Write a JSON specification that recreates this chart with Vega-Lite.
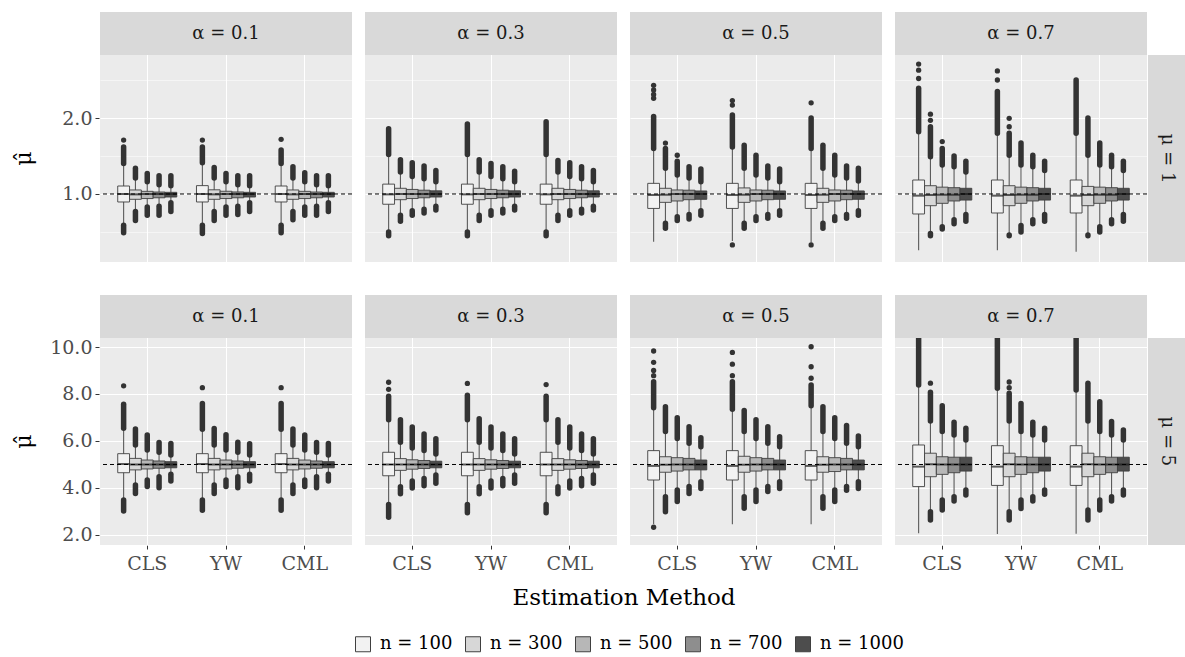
{
  "$schema": "https://vega.github.io/schema/vega-lite/v6.json",
  "padding": {"left": 12, "top": 12, "right": 0, "bottom": 0},
  "background": "white",
  "config": {
    "view": {"fill": "#EBEBEB", "stroke": null},
    "font": "DejaVu Serif",
    "axis": {"labelFont": "DejaVu Serif", "titleFont": "DejaVu Serif", "labelColor": "#4D4D4D", "tickColor": "#333333", "gridColor": "#FFFFFF", "domain": false},
    "header": {"labelFont": "DejaVu Serif", "titleFont": "DejaVu Serif"}
  },
  "datasets": {
    "d": [
      {"k":"b","mu":1,"alpha":"α = 0.1","m":"CLS","n":100,"lw":0.59,"q1":0.895,"md":1.0,"q3":1.105,"uw":1.40,"hi":1.62,"lo":0.49},
      {"k":"b","mu":1,"alpha":"α = 0.1","m":"CLS","n":300,"lw":0.77,"q1":0.93,"md":0.995,"q3":1.053,"uw":1.21,"hi":1.34,"lo":0.65},
      {"k":"b","mu":1,"alpha":"α = 0.1","m":"CLS","n":500,"lw":0.83,"q1":0.94,"md":1.0,"q3":1.035,"uw":1.16,"hi":1.27,"lo":0.72},
      {"k":"b","mu":1,"alpha":"α = 0.1","m":"CLS","n":700,"lw":0.84,"q1":0.95,"md":1.0,"q3":1.026,"uw":1.12,"hi":1.24,"lo":0.72},
      {"k":"b","mu":1,"alpha":"α = 0.1","m":"CLS","n":1000,"lw":0.886,"q1":0.96,"md":1.0,"q3":1.022,"uw":1.11,"hi":1.24,"lo":0.77},
      {"k":"b","mu":1,"alpha":"α = 0.1","m":"YW","n":100,"lw":0.59,"q1":0.895,"md":1.0,"q3":1.11,"uw":1.41,"hi":1.62,"lo":0.48},
      {"k":"b","mu":1,"alpha":"α = 0.1","m":"YW","n":300,"lw":0.77,"q1":0.93,"md":0.995,"q3":1.055,"uw":1.21,"hi":1.35,"lo":0.65},
      {"k":"b","mu":1,"alpha":"α = 0.1","m":"YW","n":500,"lw":0.83,"q1":0.94,"md":1.0,"q3":1.036,"uw":1.16,"hi":1.27,"lo":0.72},
      {"k":"b","mu":1,"alpha":"α = 0.1","m":"YW","n":700,"lw":0.84,"q1":0.95,"md":1.0,"q3":1.027,"uw":1.12,"hi":1.24,"lo":0.73},
      {"k":"b","mu":1,"alpha":"α = 0.1","m":"YW","n":1000,"lw":0.886,"q1":0.96,"md":1.0,"q3":1.022,"uw":1.11,"hi":1.24,"lo":0.77},
      {"k":"b","mu":1,"alpha":"α = 0.1","m":"CML","n":100,"lw":0.59,"q1":0.895,"md":1.0,"q3":1.105,"uw":1.40,"hi":1.58,"lo":0.49},
      {"k":"b","mu":1,"alpha":"α = 0.1","m":"CML","n":300,"lw":0.77,"q1":0.93,"md":0.995,"q3":1.053,"uw":1.21,"hi":1.36,"lo":0.66},
      {"k":"b","mu":1,"alpha":"α = 0.1","m":"CML","n":500,"lw":0.83,"q1":0.94,"md":1.0,"q3":1.035,"uw":1.16,"hi":1.28,"lo":0.72},
      {"k":"b","mu":1,"alpha":"α = 0.1","m":"CML","n":700,"lw":0.84,"q1":0.95,"md":1.0,"q3":1.026,"uw":1.12,"hi":1.24,"lo":0.72},
      {"k":"b","mu":1,"alpha":"α = 0.1","m":"CML","n":1000,"lw":0.886,"q1":0.96,"md":1.0,"q3":1.022,"uw":1.11,"hi":1.24,"lo":0.77},
      {"k":"p","mu":1,"alpha":"α = 0.1","m":"CLS","n":100,"v":1.71},
      {"k":"p","mu":1,"alpha":"α = 0.1","m":"YW","n":100,"v":1.71},
      {"k":"p","mu":1,"alpha":"α = 0.1","m":"CML","n":100,"v":1.72},

      {"k":"b","mu":1,"alpha":"α = 0.3","m":"CLS","n":100,"lw":0.50,"q1":0.865,"md":0.995,"q3":1.13,"uw":1.52,"hi":1.86,"lo":0.45},
      {"k":"b","mu":1,"alpha":"α = 0.3","m":"CLS","n":300,"lw":0.72,"q1":0.925,"md":1.0,"q3":1.075,"uw":1.29,"hi":1.45,"lo":0.64},
      {"k":"b","mu":1,"alpha":"α = 0.3","m":"CLS","n":500,"lw":0.78,"q1":0.94,"md":1.0,"q3":1.06,"uw":1.23,"hi":1.41,"lo":0.72},
      {"k":"b","mu":1,"alpha":"α = 0.3","m":"CLS","n":700,"lw":0.80,"q1":0.95,"md":1.0,"q3":1.05,"uw":1.20,"hi":1.37,"lo":0.75},
      {"k":"b","mu":1,"alpha":"α = 0.3","m":"CLS","n":1000,"lw":0.84,"q1":0.96,"md":1.0,"q3":1.042,"uw":1.16,"hi":1.31,"lo":0.79},
      {"k":"b","mu":1,"alpha":"α = 0.3","m":"YW","n":100,"lw":0.50,"q1":0.865,"md":0.995,"q3":1.13,"uw":1.52,"hi":1.92,"lo":0.45},
      {"k":"b","mu":1,"alpha":"α = 0.3","m":"YW","n":300,"lw":0.72,"q1":0.925,"md":1.0,"q3":1.075,"uw":1.29,"hi":1.45,"lo":0.65},
      {"k":"b","mu":1,"alpha":"α = 0.3","m":"YW","n":500,"lw":0.78,"q1":0.94,"md":1.0,"q3":1.06,"uw":1.23,"hi":1.40,"lo":0.72},
      {"k":"b","mu":1,"alpha":"α = 0.3","m":"YW","n":700,"lw":0.80,"q1":0.95,"md":1.0,"q3":1.05,"uw":1.20,"hi":1.36,"lo":0.75},
      {"k":"b","mu":1,"alpha":"α = 0.3","m":"YW","n":1000,"lw":0.84,"q1":0.96,"md":1.0,"q3":1.042,"uw":1.16,"hi":1.30,"lo":0.79},
      {"k":"b","mu":1,"alpha":"α = 0.3","m":"CML","n":100,"lw":0.50,"q1":0.865,"md":0.995,"q3":1.13,"uw":1.52,"hi":1.95,"lo":0.45},
      {"k":"b","mu":1,"alpha":"α = 0.3","m":"CML","n":300,"lw":0.72,"q1":0.925,"md":1.0,"q3":1.075,"uw":1.29,"hi":1.44,"lo":0.65},
      {"k":"b","mu":1,"alpha":"α = 0.3","m":"CML","n":500,"lw":0.78,"q1":0.94,"md":1.0,"q3":1.06,"uw":1.23,"hi":1.41,"lo":0.72},
      {"k":"b","mu":1,"alpha":"α = 0.3","m":"CML","n":700,"lw":0.80,"q1":0.95,"md":1.0,"q3":1.05,"uw":1.20,"hi":1.36,"lo":0.75},
      {"k":"b","mu":1,"alpha":"α = 0.3","m":"CML","n":1000,"lw":0.84,"q1":0.96,"md":1.0,"q3":1.042,"uw":1.16,"hi":1.31,"lo":0.79},

      {"k":"b","mu":1,"alpha":"α = 0.5","m":"CLS","n":100,"lw":0.37,"q1":0.81,"md":0.987,"q3":1.14,"uw":1.60,"hi":2.02,"lo":null},
      {"k":"b","mu":1,"alpha":"α = 0.5","m":"CLS","n":300,"lw":0.615,"q1":0.89,"md":0.99,"q3":1.075,"uw":1.34,"hi":1.60,"lo":0.55},
      {"k":"b","mu":1,"alpha":"α = 0.5","m":"CLS","n":500,"lw":0.70,"q1":0.908,"md":1.0,"q3":1.053,"uw":1.25,"hi":1.43,"lo":0.65},
      {"k":"b","mu":1,"alpha":"α = 0.5","m":"CLS","n":700,"lw":0.73,"q1":0.925,"md":1.0,"q3":1.05,"uw":1.21,"hi":1.36,"lo":0.67},
      {"k":"b","mu":1,"alpha":"α = 0.5","m":"CLS","n":1000,"lw":0.78,"q1":0.93,"md":1.0,"q3":1.04,"uw":1.16,"hi":1.33,"lo":0.72},
      {"k":"b","mu":1,"alpha":"α = 0.5","m":"YW","n":100,"lw":0.38,"q1":0.81,"md":0.987,"q3":1.14,"uw":1.62,"hi":2.04,"lo":null},
      {"k":"b","mu":1,"alpha":"α = 0.5","m":"YW","n":300,"lw":0.615,"q1":0.89,"md":0.99,"q3":1.08,"uw":1.34,"hi":1.64,"lo":0.55},
      {"k":"b","mu":1,"alpha":"α = 0.5","m":"YW","n":500,"lw":0.70,"q1":0.908,"md":1.0,"q3":1.053,"uw":1.25,"hi":1.51,"lo":0.65},
      {"k":"b","mu":1,"alpha":"α = 0.5","m":"YW","n":700,"lw":0.73,"q1":0.925,"md":1.0,"q3":1.05,"uw":1.21,"hi":1.37,"lo":0.68},
      {"k":"b","mu":1,"alpha":"α = 0.5","m":"YW","n":1000,"lw":0.78,"q1":0.93,"md":1.0,"q3":1.04,"uw":1.16,"hi":1.33,"lo":0.72},
      {"k":"b","mu":1,"alpha":"α = 0.5","m":"CML","n":100,"lw":0.36,"q1":0.81,"md":0.987,"q3":1.14,"uw":1.60,"hi":2.0,"lo":null},
      {"k":"b","mu":1,"alpha":"α = 0.5","m":"CML","n":300,"lw":0.615,"q1":0.89,"md":0.99,"q3":1.075,"uw":1.34,"hi":1.64,"lo":0.55},
      {"k":"b","mu":1,"alpha":"α = 0.5","m":"CML","n":500,"lw":0.70,"q1":0.908,"md":1.0,"q3":1.053,"uw":1.25,"hi":1.51,"lo":0.65},
      {"k":"b","mu":1,"alpha":"α = 0.5","m":"CML","n":700,"lw":0.73,"q1":0.925,"md":1.0,"q3":1.05,"uw":1.21,"hi":1.37,"lo":0.68},
      {"k":"b","mu":1,"alpha":"α = 0.5","m":"CML","n":1000,"lw":0.78,"q1":0.93,"md":1.0,"q3":1.04,"uw":1.17,"hi":1.34,"lo":0.72},
      {"k":"p","mu":1,"alpha":"α = 0.5","m":"CLS","n":100,"v":2.26},
      {"k":"p","mu":1,"alpha":"α = 0.5","m":"CLS","n":100,"v":2.31},
      {"k":"p","mu":1,"alpha":"α = 0.5","m":"CLS","n":100,"v":2.37},
      {"k":"p","mu":1,"alpha":"α = 0.5","m":"CLS","n":100,"v":2.43},
      {"k":"p","mu":1,"alpha":"α = 0.5","m":"CLS","n":300,"v":1.67},
      {"k":"p","mu":1,"alpha":"α = 0.5","m":"CLS","n":500,"v":1.51},
      {"k":"p","mu":1,"alpha":"α = 0.5","m":"YW","n":100,"v":2.17},
      {"k":"p","mu":1,"alpha":"α = 0.5","m":"YW","n":100,"v":2.23},
      {"k":"p","mu":1,"alpha":"α = 0.5","m":"YW","n":100,"v":0.33},
      {"k":"p","mu":1,"alpha":"α = 0.5","m":"CML","n":100,"v":2.2},
      {"k":"p","mu":1,"alpha":"α = 0.5","m":"CML","n":100,"v":0.33},

      {"k":"b","mu":1,"alpha":"α = 0.7","m":"CLS","n":100,"lw":0.26,"q1":0.737,"md":0.978,"q3":1.184,"uw":1.82,"hi":2.39,"lo":null},
      {"k":"b","mu":1,"alpha":"α = 0.7","m":"CLS","n":300,"lw":0.48,"q1":0.846,"md":0.987,"q3":1.109,"uw":1.49,"hi":1.885,"lo":0.45},
      {"k":"b","mu":1,"alpha":"α = 0.7","m":"CLS","n":500,"lw":0.57,"q1":0.877,"md":0.99,"q3":1.09,"uw":1.38,"hi":1.60,"lo":0.54},
      {"k":"b","mu":1,"alpha":"α = 0.7","m":"CLS","n":700,"lw":0.66,"q1":0.908,"md":0.99,"q3":1.083,"uw":1.36,"hi":1.50,"lo":0.61},
      {"k":"b","mu":1,"alpha":"α = 0.7","m":"CLS","n":1000,"lw":0.73,"q1":0.92,"md":1.0,"q3":1.075,"uw":1.29,"hi":1.43,"lo":0.64},
      {"k":"b","mu":1,"alpha":"α = 0.7","m":"YW","n":100,"lw":0.26,"q1":0.75,"md":0.978,"q3":1.184,"uw":1.80,"hi":2.35,"lo":null},
      {"k":"b","mu":1,"alpha":"α = 0.7","m":"YW","n":300,"lw":0.46,"q1":0.846,"md":0.987,"q3":1.109,"uw":1.51,"hi":1.80,"lo":0.45},
      {"k":"b","mu":1,"alpha":"α = 0.7","m":"YW","n":500,"lw":0.585,"q1":0.877,"md":0.99,"q3":1.09,"uw":1.38,"hi":1.67,"lo":0.50},
      {"k":"b","mu":1,"alpha":"α = 0.7","m":"YW","n":700,"lw":0.66,"q1":0.908,"md":0.99,"q3":1.083,"uw":1.36,"hi":1.51,"lo":0.61},
      {"k":"b","mu":1,"alpha":"α = 0.7","m":"YW","n":1000,"lw":0.73,"q1":0.92,"md":1.0,"q3":1.075,"uw":1.31,"hi":1.43,"lo":0.64},
      {"k":"b","mu":1,"alpha":"α = 0.7","m":"CML","n":100,"lw":0.24,"q1":0.75,"md":0.978,"q3":1.184,"uw":1.80,"hi":2.50,"lo":null},
      {"k":"b","mu":1,"alpha":"α = 0.7","m":"CML","n":300,"lw":0.46,"q1":0.846,"md":0.987,"q3":1.10,"uw":1.51,"hi":2.0,"lo":0.45},
      {"k":"b","mu":1,"alpha":"α = 0.7","m":"CML","n":500,"lw":0.57,"q1":0.877,"md":0.99,"q3":1.09,"uw":1.38,"hi":1.67,"lo":0.50},
      {"k":"b","mu":1,"alpha":"α = 0.7","m":"CML","n":700,"lw":0.66,"q1":0.908,"md":0.99,"q3":1.083,"uw":1.36,"hi":1.51,"lo":0.61},
      {"k":"b","mu":1,"alpha":"α = 0.7","m":"CML","n":1000,"lw":0.73,"q1":0.92,"md":1.0,"q3":1.075,"uw":1.31,"hi":1.43,"lo":0.64},
      {"k":"p","mu":1,"alpha":"α = 0.7","m":"CLS","n":100,"v":2.52},
      {"k":"p","mu":1,"alpha":"α = 0.7","m":"CLS","n":100,"v":2.63},
      {"k":"p","mu":1,"alpha":"α = 0.7","m":"CLS","n":100,"v":2.71},
      {"k":"p","mu":1,"alpha":"α = 0.7","m":"CLS","n":300,"v":1.97},
      {"k":"p","mu":1,"alpha":"α = 0.7","m":"CLS","n":300,"v":2.05},
      {"k":"p","mu":1,"alpha":"α = 0.7","m":"CLS","n":500,"v":1.69},
      {"k":"p","mu":1,"alpha":"α = 0.7","m":"YW","n":100,"v":2.50},
      {"k":"p","mu":1,"alpha":"α = 0.7","m":"YW","n":100,"v":2.62},
      {"k":"p","mu":1,"alpha":"α = 0.7","m":"YW","n":300,"v":1.885},
      {"k":"p","mu":1,"alpha":"α = 0.7","m":"YW","n":300,"v":1.996},

      {"k":"b","mu":5,"alpha":"α = 0.1","m":"CLS","n":100,"lw":3.49,"q1":4.65,"md":5.02,"q3":5.46,"uw":6.54,"hi":7.56,"lo":3.02},
      {"k":"b","mu":5,"alpha":"α = 0.1","m":"CLS","n":300,"lw":4.13,"q1":4.77,"md":5.0,"q3":5.26,"uw":5.83,"hi":6.51,"lo":3.77},
      {"k":"b","mu":5,"alpha":"α = 0.1","m":"CLS","n":500,"lw":4.34,"q1":4.81,"md":5.0,"q3":5.19,"uw":5.62,"hi":6.26,"lo":4.06},
      {"k":"b","mu":5,"alpha":"α = 0.1","m":"CLS","n":700,"lw":4.48,"q1":4.84,"md":5.0,"q3":5.15,"uw":5.52,"hi":5.94,"lo":4.01},
      {"k":"b","mu":5,"alpha":"α = 0.1","m":"CLS","n":1000,"lw":4.58,"q1":4.86,"md":5.0,"q3":5.12,"uw":5.40,"hi":5.89,"lo":4.30},
      {"k":"b","mu":5,"alpha":"α = 0.1","m":"YW","n":100,"lw":3.49,"q1":4.65,"md":5.02,"q3":5.46,"uw":6.50,"hi":7.60,"lo":3.05},
      {"k":"b","mu":5,"alpha":"α = 0.1","m":"YW","n":300,"lw":4.13,"q1":4.77,"md":5.0,"q3":5.26,"uw":5.83,"hi":6.53,"lo":3.77},
      {"k":"b","mu":5,"alpha":"α = 0.1","m":"YW","n":500,"lw":4.34,"q1":4.81,"md":5.0,"q3":5.19,"uw":5.62,"hi":6.27,"lo":4.06},
      {"k":"b","mu":5,"alpha":"α = 0.1","m":"YW","n":700,"lw":4.48,"q1":4.84,"md":5.0,"q3":5.15,"uw":5.52,"hi":5.95,"lo":4.01},
      {"k":"b","mu":5,"alpha":"α = 0.1","m":"YW","n":1000,"lw":4.58,"q1":4.86,"md":5.0,"q3":5.12,"uw":5.40,"hi":5.88,"lo":4.30},
      {"k":"b","mu":5,"alpha":"α = 0.1","m":"CML","n":100,"lw":3.49,"q1":4.65,"md":5.02,"q3":5.46,"uw":6.50,"hi":7.60,"lo":3.05},
      {"k":"b","mu":5,"alpha":"α = 0.1","m":"CML","n":300,"lw":4.13,"q1":4.77,"md":5.0,"q3":5.26,"uw":5.83,"hi":6.51,"lo":3.77},
      {"k":"b","mu":5,"alpha":"α = 0.1","m":"CML","n":500,"lw":4.34,"q1":4.81,"md":5.0,"q3":5.19,"uw":5.62,"hi":6.26,"lo":4.06},
      {"k":"b","mu":5,"alpha":"α = 0.1","m":"CML","n":700,"lw":4.48,"q1":4.84,"md":5.0,"q3":5.15,"uw":5.52,"hi":5.94,"lo":4.01},
      {"k":"b","mu":5,"alpha":"α = 0.1","m":"CML","n":1000,"lw":4.58,"q1":4.86,"md":5.0,"q3":5.12,"uw":5.40,"hi":5.89,"lo":4.30},
      {"k":"p","mu":5,"alpha":"α = 0.1","m":"CLS","n":100,"v":8.35},
      {"k":"p","mu":5,"alpha":"α = 0.1","m":"YW","n":100,"v":8.27},
      {"k":"p","mu":5,"alpha":"α = 0.1","m":"CML","n":100,"v":8.27},

      {"k":"b","mu":5,"alpha":"α = 0.3","m":"CLS","n":100,"lw":3.3,"q1":4.52,"md":5.0,"q3":5.52,"uw":6.9,"hi":7.9,"lo":2.75},
      {"k":"b","mu":5,"alpha":"α = 0.3","m":"CLS","n":300,"lw":4.05,"q1":4.75,"md":5.0,"q3":5.25,"uw":5.95,"hi":6.9,"lo":3.75},
      {"k":"b","mu":5,"alpha":"α = 0.3","m":"CLS","n":500,"lw":4.3,"q1":4.8,"md":5.0,"q3":5.2,"uw":5.7,"hi":6.6,"lo":4.0},
      {"k":"b","mu":5,"alpha":"α = 0.3","m":"CLS","n":700,"lw":4.4,"q1":4.83,"md":5.0,"q3":5.17,"uw":5.6,"hi":6.3,"lo":4.1},
      {"k":"b","mu":5,"alpha":"α = 0.3","m":"CLS","n":1000,"lw":4.55,"q1":4.86,"md":5.0,"q3":5.14,"uw":5.45,"hi":6.1,"lo":4.2},
      {"k":"b","mu":5,"alpha":"α = 0.3","m":"YW","n":100,"lw":3.3,"q1":4.52,"md":5.0,"q3":5.52,"uw":6.9,"hi":7.95,"lo":2.95},
      {"k":"b","mu":5,"alpha":"α = 0.3","m":"YW","n":300,"lw":4.05,"q1":4.75,"md":5.0,"q3":5.25,"uw":5.95,"hi":6.95,"lo":3.75},
      {"k":"b","mu":5,"alpha":"α = 0.3","m":"YW","n":500,"lw":4.3,"q1":4.8,"md":5.0,"q3":5.2,"uw":5.7,"hi":6.6,"lo":4.0},
      {"k":"b","mu":5,"alpha":"α = 0.3","m":"YW","n":700,"lw":4.4,"q1":4.83,"md":5.0,"q3":5.17,"uw":5.6,"hi":6.3,"lo":4.1},
      {"k":"b","mu":5,"alpha":"α = 0.3","m":"YW","n":1000,"lw":4.55,"q1":4.86,"md":5.0,"q3":5.14,"uw":5.45,"hi":6.1,"lo":4.2},
      {"k":"b","mu":5,"alpha":"α = 0.3","m":"CML","n":100,"lw":3.3,"q1":4.52,"md":5.0,"q3":5.52,"uw":6.9,"hi":7.9,"lo":2.95},
      {"k":"b","mu":5,"alpha":"α = 0.3","m":"CML","n":300,"lw":4.05,"q1":4.75,"md":5.0,"q3":5.25,"uw":5.95,"hi":6.9,"lo":3.75},
      {"k":"b","mu":5,"alpha":"α = 0.3","m":"CML","n":500,"lw":4.3,"q1":4.8,"md":5.0,"q3":5.2,"uw":5.7,"hi":6.6,"lo":4.0},
      {"k":"b","mu":5,"alpha":"α = 0.3","m":"CML","n":700,"lw":4.4,"q1":4.83,"md":5.0,"q3":5.17,"uw":5.6,"hi":6.3,"lo":4.1},
      {"k":"b","mu":5,"alpha":"α = 0.3","m":"CML","n":1000,"lw":4.55,"q1":4.86,"md":5.0,"q3":5.14,"uw":5.45,"hi":6.1,"lo":4.2},
      {"k":"p","mu":5,"alpha":"α = 0.3","m":"CLS","n":100,"v":8.2},
      {"k":"p","mu":5,"alpha":"α = 0.3","m":"CLS","n":100,"v":8.5},
      {"k":"p","mu":5,"alpha":"α = 0.3","m":"YW","n":100,"v":8.45},
      {"k":"p","mu":5,"alpha":"α = 0.3","m":"CML","n":100,"v":8.4},

      {"k":"b","mu":5,"alpha":"α = 0.5","m":"CLS","n":100,"lw":2.47,"q1":4.34,"md":4.94,"q3":5.59,"uw":7.42,"hi":8.52,"lo":null},
      {"k":"b","mu":5,"alpha":"α = 0.5","m":"CLS","n":300,"lw":3.63,"q1":4.67,"md":4.99,"q3":5.33,"uw":6.40,"hi":7.46,"lo":2.99},
      {"k":"b","mu":5,"alpha":"α = 0.5","m":"CLS","n":500,"lw":3.91,"q1":4.72,"md":5.0,"q3":5.29,"uw":6.11,"hi":6.99,"lo":3.42},
      {"k":"b","mu":5,"alpha":"α = 0.5","m":"CLS","n":700,"lw":4.06,"q1":4.77,"md":5.0,"q3":5.26,"uw":5.90,"hi":6.61,"lo":3.77},
      {"k":"b","mu":5,"alpha":"α = 0.5","m":"CLS","n":1000,"lw":4.27,"q1":4.77,"md":5.0,"q3":5.19,"uw":5.76,"hi":6.14,"lo":3.98},
      {"k":"b","mu":5,"alpha":"α = 0.5","m":"YW","n":100,"lw":2.46,"q1":4.34,"md":4.94,"q3":5.59,"uw":7.35,"hi":8.52,"lo":null},
      {"k":"b","mu":5,"alpha":"α = 0.5","m":"YW","n":300,"lw":3.63,"q1":4.67,"md":4.99,"q3":5.35,"uw":6.40,"hi":7.30,"lo":3.14},
      {"k":"b","mu":5,"alpha":"α = 0.5","m":"YW","n":500,"lw":3.91,"q1":4.72,"md":5.0,"q3":5.29,"uw":6.11,"hi":6.90,"lo":3.42},
      {"k":"b","mu":5,"alpha":"α = 0.5","m":"YW","n":700,"lw":4.06,"q1":4.77,"md":5.0,"q3":5.26,"uw":5.90,"hi":6.61,"lo":3.85},
      {"k":"b","mu":5,"alpha":"α = 0.5","m":"YW","n":1000,"lw":4.27,"q1":4.77,"md":5.0,"q3":5.19,"uw":5.76,"hi":6.18,"lo":3.98},
      {"k":"b","mu":5,"alpha":"α = 0.5","m":"CML","n":100,"lw":2.46,"q1":4.34,"md":4.94,"q3":5.59,"uw":7.5,"hi":8.38,"lo":null},
      {"k":"b","mu":5,"alpha":"α = 0.5","m":"CML","n":300,"lw":3.63,"q1":4.67,"md":4.99,"q3":5.33,"uw":6.40,"hi":7.46,"lo":3.14},
      {"k":"b","mu":5,"alpha":"α = 0.5","m":"CML","n":500,"lw":3.91,"q1":4.70,"md":5.0,"q3":5.29,"uw":6.11,"hi":6.99,"lo":3.42},
      {"k":"b","mu":5,"alpha":"α = 0.5","m":"CML","n":700,"lw":4.06,"q1":4.77,"md":5.0,"q3":5.26,"uw":5.90,"hi":6.66,"lo":3.9},
      {"k":"b","mu":5,"alpha":"α = 0.5","m":"CML","n":1000,"lw":4.27,"q1":4.77,"md":5.0,"q3":5.19,"uw":5.76,"hi":6.21,"lo":3.98},
      {"k":"p","mu":5,"alpha":"α = 0.5","m":"CLS","n":100,"v":8.78},
      {"k":"p","mu":5,"alpha":"α = 0.5","m":"CLS","n":100,"v":9.0},
      {"k":"p","mu":5,"alpha":"α = 0.5","m":"CLS","n":100,"v":9.35},
      {"k":"p","mu":5,"alpha":"α = 0.5","m":"CLS","n":100,"v":9.83},
      {"k":"p","mu":5,"alpha":"α = 0.5","m":"CLS","n":100,"v":2.33},
      {"k":"p","mu":5,"alpha":"α = 0.5","m":"YW","n":100,"v":8.78},
      {"k":"p","mu":5,"alpha":"α = 0.5","m":"YW","n":100,"v":9.27},
      {"k":"p","mu":5,"alpha":"α = 0.5","m":"YW","n":100,"v":9.77},
      {"k":"p","mu":5,"alpha":"α = 0.5","m":"CML","n":100,"v":8.67},
      {"k":"p","mu":5,"alpha":"α = 0.5","m":"CML","n":100,"v":9.16},
      {"k":"p","mu":5,"alpha":"α = 0.5","m":"CML","n":100,"v":10.01},

      {"k":"b","mu":5,"alpha":"α = 0.7","m":"CLS","n":100,"lw":2.07,"q1":4.06,"md":4.91,"q3":5.83,"uw":8.38,"hi":11.0,"lo":null},
      {"k":"b","mu":5,"alpha":"α = 0.7","m":"CLS","n":300,"lw":2.99,"q1":4.48,"md":5.01,"q3":5.48,"uw":6.85,"hi":8.07,"lo":2.64},
      {"k":"b","mu":5,"alpha":"α = 0.7","m":"CLS","n":500,"lw":3.49,"q1":4.58,"md":5.0,"q3":5.33,"uw":6.40,"hi":7.50,"lo":3.06},
      {"k":"b","mu":5,"alpha":"α = 0.7","m":"CLS","n":700,"lw":3.63,"q1":4.65,"md":5.0,"q3":5.31,"uw":6.26,"hi":6.80,"lo":3.45},
      {"k":"b","mu":5,"alpha":"α = 0.7","m":"CLS","n":1000,"lw":3.91,"q1":4.72,"md":5.0,"q3":5.31,"uw":6.04,"hi":6.54,"lo":3.70},
      {"k":"b","mu":5,"alpha":"α = 0.7","m":"YW","n":100,"lw":2.04,"q1":4.11,"md":4.91,"q3":5.80,"uw":8.24,"hi":11.0,"lo":null},
      {"k":"b","mu":5,"alpha":"α = 0.7","m":"YW","n":300,"lw":2.99,"q1":4.48,"md":5.01,"q3":5.48,"uw":6.85,"hi":8.03,"lo":2.64},
      {"k":"b","mu":5,"alpha":"α = 0.7","m":"YW","n":500,"lw":3.49,"q1":4.58,"md":5.0,"q3":5.33,"uw":6.40,"hi":7.60,"lo":3.13},
      {"k":"b","mu":5,"alpha":"α = 0.7","m":"YW","n":700,"lw":3.63,"q1":4.65,"md":5.0,"q3":5.31,"uw":6.26,"hi":6.80,"lo":3.45},
      {"k":"b","mu":5,"alpha":"α = 0.7","m":"YW","n":1000,"lw":3.91,"q1":4.72,"md":5.0,"q3":5.31,"uw":6.04,"hi":6.54,"lo":3.73},
      {"k":"b","mu":5,"alpha":"α = 0.7","m":"CML","n":100,"lw":2.05,"q1":4.11,"md":4.91,"q3":5.80,"uw":8.17,"hi":11.0,"lo":null},
      {"k":"b","mu":5,"alpha":"α = 0.7","m":"CML","n":300,"lw":3.06,"q1":4.48,"md":5.01,"q3":5.48,"uw":6.85,"hi":8.46,"lo":2.64},
      {"k":"b","mu":5,"alpha":"α = 0.7","m":"CML","n":500,"lw":3.49,"q1":4.58,"md":5.0,"q3":5.33,"uw":6.40,"hi":7.67,"lo":3.06},
      {"k":"b","mu":5,"alpha":"α = 0.7","m":"CML","n":700,"lw":3.63,"q1":4.65,"md":5.0,"q3":5.31,"uw":6.26,"hi":6.83,"lo":3.45},
      {"k":"b","mu":5,"alpha":"α = 0.7","m":"CML","n":1000,"lw":3.91,"q1":4.72,"md":5.0,"q3":5.31,"uw":6.04,"hi":6.47,"lo":3.70},
      {"k":"p","mu":5,"alpha":"α = 0.7","m":"CLS","n":300,"v":8.46},
      {"k":"p","mu":5,"alpha":"α = 0.7","m":"YW","n":300,"v":8.27},
      {"k":"p","mu":5,"alpha":"α = 0.7","m":"YW","n":300,"v":8.51}
    ]
  },
  "vconcat": [
    {
      "spacing": 0,
      "hconcat": [
        {
          "data": {"name": "d"},
          "transform": [{"filter": "datum.mu == 1"}],
          "facet": {"column": {"field": "alpha", "type": "nominal", "header": {"labels": false, "title": null}}},
          "spacing": 11,
          "spec": {
            "width": 252,
            "height": 250,
            "layer": [
              {
                "transform": [{"filter": "datum.k == 'b'"}],
                "mark": {"type": "rule", "color": "#5A5A5A", "strokeWidth": 1.1},
                "encoding": {
                  "x": {"field": "m", "type": "nominal", "sort": ["CLS", "YW", "CML"], "scale": {"paddingInner": 0.25, "paddingOuter": 0.225},
                        "axis": {"labels": false, "ticks": false, "title": null, "grid": true, "gridWidth": 1.1, "bandPosition": 0.5}},
                  "xOffset": {"field": "n", "type": "nominal", "sort": [100, 300, 500, 700, 1000], "scale": {"paddingInner": 0, "paddingOuter": 0}},
                  "y": {"field": "lw", "type": "quantitative", "scale": {"domain": [0.105, 3.395], "nice": false, "zero": false},
                        "axis": {"values": [0.5, 1, 1.5, 2, 2.5], "labelExpr": "datum.value % 1 == 0 ? format(datum.value, '.1f') : ''",
                                 "labelFontSize": 19, "tickSize": 4, "labelPadding": 3, "minExtent": 60, "maxExtent": 60,
                                 "tickColor": {"condition": {"test": "datum.value % 1 != 0", "value": "transparent"}, "value": "#333333"},
                                 "gridWidth": {"condition": {"test": "datum.value % 1 != 0", "value": 0.5}, "value": 1.1},
                                 "title": "μ̂", "titleFontSize": 22, "titleFontWeight": "normal", "titleColor": "#000000", "titleY": 146, "titleX": -64}},
                  "y2": {"field": "uw"}
                }
              },
              {
                "transform": [{"filter": "datum.k == 'b' && datum.hi != null"}],
                "mark": {"type": "rule", "color": "#333333", "strokeWidth": 5.5, "strokeCap": "round"},
                "encoding": {
                  "x": {"field": "m", "type": "nominal", "sort": ["CLS", "YW", "CML"]},
                  "xOffset": {"field": "n", "type": "nominal", "sort": [100, 300, 500, 700, 1000]},
                  "y": {"field": "hi", "type": "quantitative"},
                  "y2": {"field": "uw"}
                }
              },
              {
                "transform": [{"filter": "datum.k == 'b' && datum.lo != null"}],
                "mark": {"type": "rule", "color": "#333333", "strokeWidth": 5.5, "strokeCap": "round"},
                "encoding": {
                  "x": {"field": "m", "type": "nominal", "sort": ["CLS", "YW", "CML"]},
                  "xOffset": {"field": "n", "type": "nominal", "sort": [100, 300, 500, 700, 1000]},
                  "y": {"field": "lo", "type": "quantitative"},
                  "y2": {"field": "lw"}
                }
              },
              {
                "transform": [{"filter": "datum.k == 'p'"}],
                "mark": {"type": "circle", "color": "#333333", "opacity": 1, "size": 28},
                "encoding": {
                  "x": {"field": "m", "type": "nominal", "sort": ["CLS", "YW", "CML"]},
                  "xOffset": {"field": "n", "type": "nominal", "sort": [100, 300, 500, 700, 1000]},
                  "y": {"field": "v", "type": "quantitative"}
                }
              },
              {
                "transform": [{"filter": "datum.k == 'b'"}],
                "mark": {"type": "bar", "stroke": "#404040", "strokeWidth": 0.9},
                "encoding": {
                  "x": {"field": "m", "type": "nominal", "sort": ["CLS", "YW", "CML"]},
                  "xOffset": {"field": "n", "type": "nominal", "sort": [100, 300, 500, 700, 1000]},
                  "y": {"field": "q1", "type": "quantitative"},
                  "y2": {"field": "q3"},
                  "fill": {"field": "n", "type": "ordinal", "sort": [100, 300, 500, 700, 1000],
                           "scale": {"domain": [100, 300, 500, 700, 1000], "range": ["#F2F2F2", "#D7D7D7", "#B7B7B7", "#8E8E8E", "#4D4D4D"]},
                           "legend": {"orient": "none", "legendX": 254, "legendY": 623, "direction": "horizontal", "title": null,
                                      "labelExpr": "'n = ' + datum.label", "symbolType": "square", "symbolSize": 225,
                                      "symbolStrokeColor": "#404040", "symbolStrokeWidth": 1, "labelFont": "DejaVu Serif", "labelFontSize": 18,
                                      "labelColor": "#000000", "columnPadding": 10, "labelOffset": 8}}
                }
              },
              {
                "transform": [{"filter": "datum.k == 'b'"}],
                "mark": {"type": "tick", "color": "#1A1A1A", "size": 11.8, "thickness": 2},
                "encoding": {
                  "x": {"field": "m", "type": "nominal", "sort": ["CLS", "YW", "CML"]},
                  "xOffset": {"field": "n", "type": "nominal", "sort": [100, 300, 500, 700, 1000]},
                  "y": {"field": "md", "type": "quantitative"}
                }
              },
              {
                "transform": [{"filter": "datum.k == 'b' && datum.m == 'CLS' && datum.n == 100"}],
                "mark": {"type": "rule", "color": "#000000", "strokeWidth": 1, "strokeDash": [4, 3]},
                "encoding": {"y": {"datum": 1, "type": "quantitative"}}
              },
              {
                "transform": [{"filter": "datum.k == 'b' && datum.m == 'CLS' && datum.n == 100"}],
                "mark": {"type": "rect", "fill": "#D9D9D9"},
                "encoding": {"x": {"value": 0}, "x2": {"value": "width"}, "y": {"datum": 2.829, "type": "quantitative"}, "y2": {"datum": 3.395}}
              },
              {
                "transform": [{"filter": "datum.k == 'b' && datum.m == 'CLS' && datum.n == 100"}],
                "mark": {"type": "text", "font": "DejaVu Serif", "fontSize": 18, "color": "#1A1A1A", "baseline": "middle"},
                "encoding": {"text": {"field": "alpha"}, "y": {"datum": 3.112, "type": "quantitative"}}
              }
            ]
          }
        },
        {
          "width": 37,
          "height": 250,
          "view": {"fill": "white", "stroke": null},
          "data": {"values": [{"lab": "μ = 1"}]},
          "layer": [
            {
              "mark": {"type": "rect", "fill": "#D9D9D9"},
              "encoding": {"x": {"value": 0}, "x2": {"value": "width"},
                           "y": {"datum": 0.105, "type": "quantitative", "scale": {"domain": [0.105, 3.395], "nice": false, "zero": false}, "axis": null},
                           "y2": {"datum": 2.829}}
            },
            {
              "mark": {"type": "text", "font": "DejaVu Serif", "fontSize": 18, "color": "#1A1A1A", "angle": 90, "baseline": "middle"},
              "encoding": {"text": {"field": "lab"}, "y": {"datum": 1.467, "type": "quantitative"}}
            }
          ]
        }
      ]
    },
    {
      "spacing": 0,
      "hconcat": [
        {
          "data": {"name": "d"},
          "transform": [{"filter": "datum.mu == 5"}],
          "facet": {"column": {"field": "alpha", "type": "nominal",
                     "header": {"labels": false, "title": "Estimation Method", "titleOrient": "bottom", "titleFontSize": 23, "titleFontWeight": "normal", "titleColor": "#000000", "titlePadding": 4}}},
          "spacing": 11,
          "spec": {
            "width": 252,
            "height": 250,
            "layer": [
              {
                "transform": [{"filter": "datum.k == 'b'"}],
                "mark": {"type": "rule", "color": "#5A5A5A", "strokeWidth": 1.1},
                "encoding": {
                  "x": {"field": "m", "type": "nominal", "sort": ["CLS", "YW", "CML"], "scale": {"paddingInner": 0.25, "paddingOuter": 0.225},
                        "axis": {"labelFontSize": 19, "tickSize": 4, "labelPadding": 5, "title": null, "grid": true, "gridWidth": 1.1, "bandPosition": 0.5, "labelAngle": 0}},
                  "xOffset": {"field": "n", "type": "nominal", "sort": [100, 300, 500, 700, 1000], "scale": {"paddingInner": 0, "paddingOuter": 0}},
                  "y": {"field": "lw", "type": "quantitative", "scale": {"domain": [1.574, 12.213], "nice": false, "zero": false},
                        "axis": {"values": [2, 3, 4, 5, 6, 7, 8, 9, 10], "labelExpr": "datum.value % 2 == 0 ? format(datum.value, '.1f') : ''",
                                 "labelFontSize": 19, "tickSize": 4, "labelPadding": 3, "minExtent": 60, "maxExtent": 60,
                                 "tickColor": {"condition": {"test": "datum.value % 2 != 0", "value": "transparent"}, "value": "#333333"},
                                 "gridWidth": {"condition": {"test": "datum.value % 2 != 0", "value": 0.5}, "value": 1.1},
                                 "title": "μ̂", "titleFontSize": 22, "titleFontWeight": "normal", "titleColor": "#000000", "titleY": 146, "titleX": -64}},
                  "y2": {"field": "uw"}
                }
              },
              {
                "transform": [{"filter": "datum.k == 'b' && datum.hi != null"}],
                "mark": {"type": "rule", "color": "#333333", "strokeWidth": 5.5, "strokeCap": "round"},
                "encoding": {
                  "x": {"field": "m", "type": "nominal", "sort": ["CLS", "YW", "CML"]},
                  "xOffset": {"field": "n", "type": "nominal", "sort": [100, 300, 500, 700, 1000]},
                  "y": {"field": "hi", "type": "quantitative"},
                  "y2": {"field": "uw"}
                }
              },
              {
                "transform": [{"filter": "datum.k == 'b' && datum.lo != null"}],
                "mark": {"type": "rule", "color": "#333333", "strokeWidth": 5.5, "strokeCap": "round"},
                "encoding": {
                  "x": {"field": "m", "type": "nominal", "sort": ["CLS", "YW", "CML"]},
                  "xOffset": {"field": "n", "type": "nominal", "sort": [100, 300, 500, 700, 1000]},
                  "y": {"field": "lo", "type": "quantitative"},
                  "y2": {"field": "lw"}
                }
              },
              {
                "transform": [{"filter": "datum.k == 'p'"}],
                "mark": {"type": "circle", "color": "#333333", "opacity": 1, "size": 28},
                "encoding": {
                  "x": {"field": "m", "type": "nominal", "sort": ["CLS", "YW", "CML"]},
                  "xOffset": {"field": "n", "type": "nominal", "sort": [100, 300, 500, 700, 1000]},
                  "y": {"field": "v", "type": "quantitative"}
                }
              },
              {
                "transform": [{"filter": "datum.k == 'b'"}],
                "mark": {"type": "bar", "stroke": "#404040", "strokeWidth": 0.9},
                "encoding": {
                  "x": {"field": "m", "type": "nominal", "sort": ["CLS", "YW", "CML"]},
                  "xOffset": {"field": "n", "type": "nominal", "sort": [100, 300, 500, 700, 1000]},
                  "y": {"field": "q1", "type": "quantitative"},
                  "y2": {"field": "q3"},
                  "fill": {"field": "n", "type": "ordinal", "sort": [100, 300, 500, 700, 1000],
                           "scale": {"domain": [100, 300, 500, 700, 1000], "range": ["#F2F2F2", "#D7D7D7", "#B7B7B7", "#8E8E8E", "#4D4D4D"]},
                           "legend": {"orient": "none", "legendX": 254, "legendY": 623, "direction": "horizontal", "title": null,
                                      "labelExpr": "'n = ' + datum.label", "symbolType": "square", "symbolSize": 225,
                                      "symbolStrokeColor": "#404040", "symbolStrokeWidth": 1, "labelFont": "DejaVu Serif", "labelFontSize": 18,
                                      "labelColor": "#000000", "columnPadding": 10, "labelOffset": 8}}
                }
              },
              {
                "transform": [{"filter": "datum.k == 'b'"}],
                "mark": {"type": "tick", "color": "#1A1A1A", "size": 11.8, "thickness": 2},
                "encoding": {
                  "x": {"field": "m", "type": "nominal", "sort": ["CLS", "YW", "CML"]},
                  "xOffset": {"field": "n", "type": "nominal", "sort": [100, 300, 500, 700, 1000]},
                  "y": {"field": "md", "type": "quantitative"}
                }
              },
              {
                "transform": [{"filter": "datum.k == 'b' && datum.m == 'CLS' && datum.n == 100"}],
                "mark": {"type": "rule", "color": "#000000", "strokeWidth": 1, "strokeDash": [4, 3]},
                "encoding": {"y": {"datum": 5, "type": "quantitative"}}
              },
              {
                "transform": [{"filter": "datum.k == 'b' && datum.m == 'CLS' && datum.n == 100"}],
                "mark": {"type": "rect", "fill": "#D9D9D9"},
                "encoding": {"x": {"value": 0}, "x2": {"value": "width"}, "y": {"datum": 10.383, "type": "quantitative"}, "y2": {"datum": 12.213}}
              },
              {
                "transform": [{"filter": "datum.k == 'b' && datum.m == 'CLS' && datum.n == 100"}],
                "mark": {"type": "text", "font": "DejaVu Serif", "fontSize": 18, "color": "#1A1A1A", "baseline": "middle"},
                "encoding": {"text": {"field": "alpha"}, "y": {"datum": 11.298, "type": "quantitative"}}
              }
            ]
          }
        },
        {
          "width": 37,
          "height": 250,
          "view": {"fill": "white", "stroke": null},
          "data": {"values": [{"lab": "μ = 5"}]},
          "layer": [
            {
              "mark": {"type": "rect", "fill": "#D9D9D9"},
              "encoding": {"x": {"value": 0}, "x2": {"value": "width"},
                           "y": {"datum": 1.574, "type": "quantitative", "scale": {"domain": [1.574, 12.213], "nice": false, "zero": false}, "axis": null},
                           "y2": {"datum": 10.383}}
            },
            {
              "mark": {"type": "text", "font": "DejaVu Serif", "fontSize": 18, "color": "#1A1A1A", "angle": 90, "baseline": "middle"},
              "encoding": {"text": {"field": "lab"}, "y": {"datum": 5.98, "type": "quantitative"}}
            }
          ]
        }
      ]
    }
  ],
  "spacing": 33
}
